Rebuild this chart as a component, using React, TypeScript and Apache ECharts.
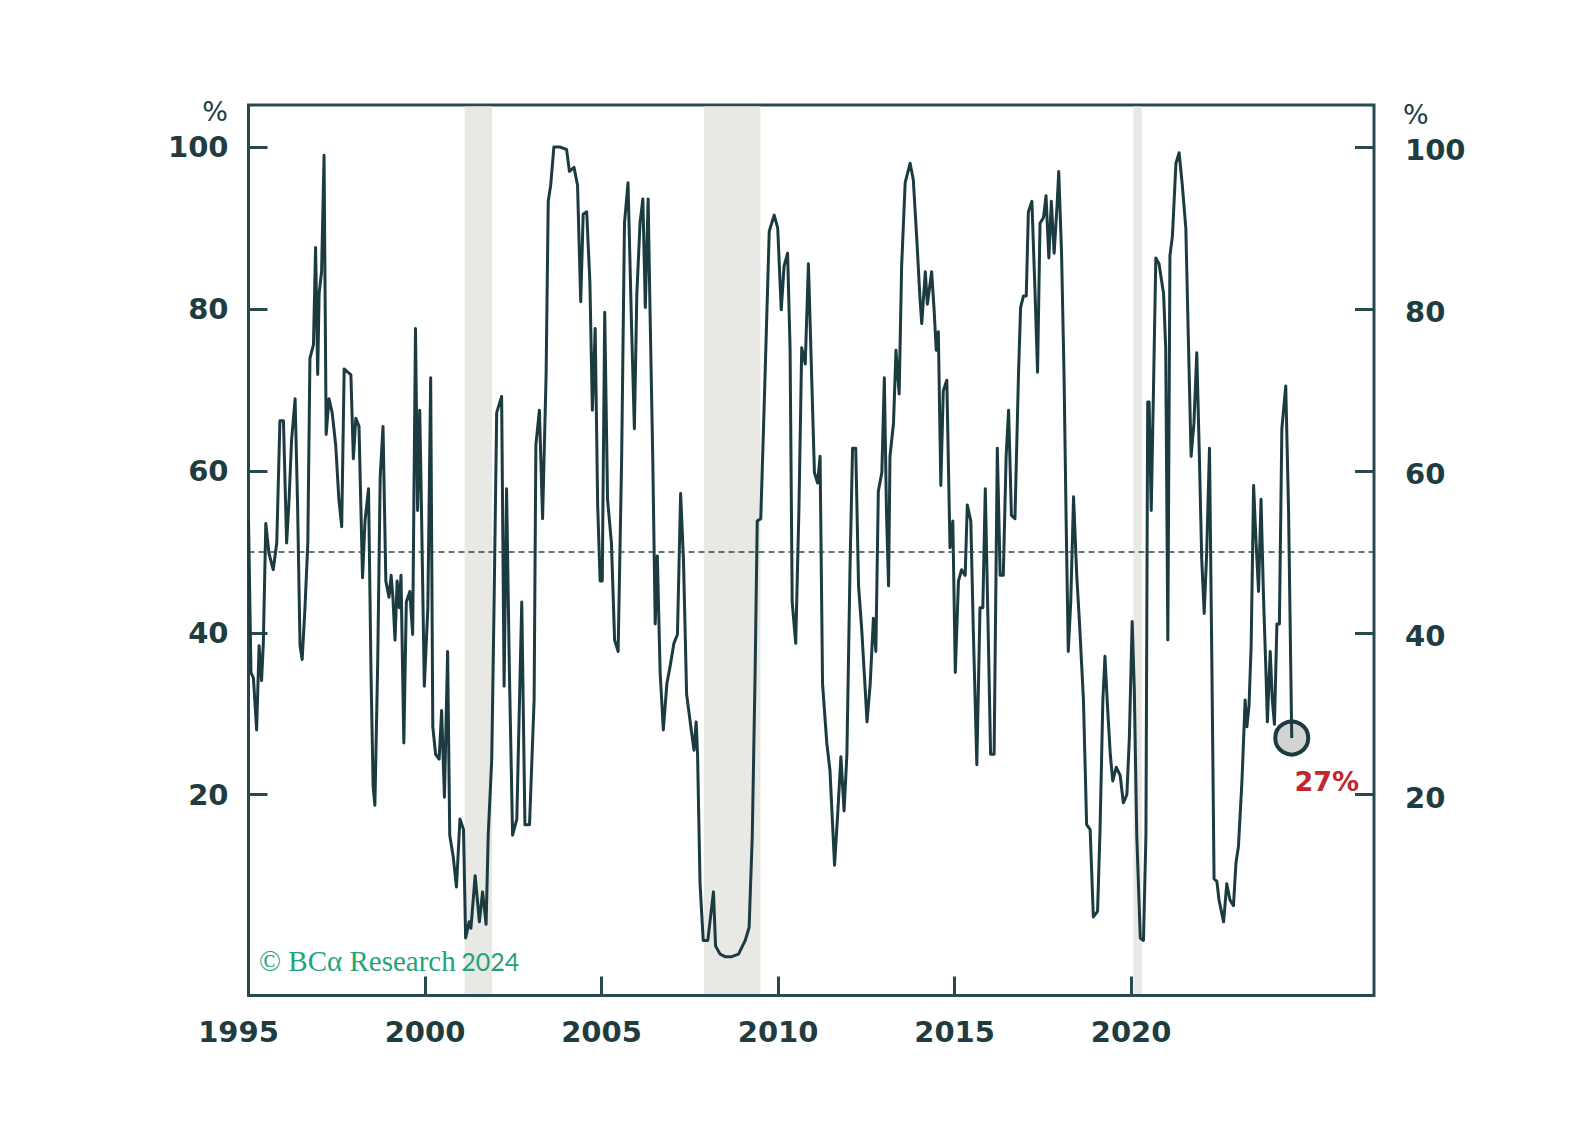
import React, { useEffect, useRef } from "react";
import * as echarts from "echarts";

// Decimal-year dates and values (%)
const dates = [
  1995.0, 1995.07, 1995.14, 1995.23, 1995.3, 1995.37, 1995.42, 1995.49, 1995.58, 1995.7, 1995.8, 1995.89, 1995.99,
  1996.08, 1996.15, 1996.22, 1996.32, 1996.39, 1996.46, 1996.52, 1996.6, 1996.68, 1996.74, 1996.84, 1996.9, 1996.96,
  1997.0, 1997.07, 1997.14, 1997.2, 1997.28, 1997.37, 1997.47, 1997.56, 1997.64, 1997.71, 1997.81, 1997.9, 1997.97,
  1998.04, 1998.13, 1998.23, 1998.3, 1998.4, 1998.47, 1998.53, 1998.58, 1998.66, 1998.73, 1998.81, 1998.89, 1998.98,
  1999.04, 1999.09, 1999.15, 1999.21, 1999.27, 1999.32, 1999.4, 1999.47, 1999.57, 1999.65, 1999.73, 1999.79, 1999.85,
  1999.9, 1999.98, 2000.08, 2000.16, 2000.22, 2000.3, 2000.4, 2000.47, 2000.55, 2000.64, 2000.7, 2000.8, 2000.89,
  2000.99, 2001.09, 2001.15, 2001.25, 2001.3, 2001.42, 2001.54, 2001.63, 2001.73, 2001.79, 2001.89, 2001.95, 2002.03,
  2002.17, 2002.24, 2002.31, 2002.39, 2002.48, 2002.6, 2002.74, 2002.83, 2002.96, 2003.09, 2003.14, 2003.24, 2003.33,
  2003.43, 2003.49, 2003.56, 2003.65, 2003.83, 2004.01, 2004.09, 2004.22, 2004.32, 2004.41, 2004.48, 2004.58, 2004.67,
  2004.74, 2004.82, 2004.89, 2004.96, 2005.02, 2005.09, 2005.17, 2005.28, 2005.37, 2005.47, 2005.57, 2005.65, 2005.75,
  2005.85, 2005.93, 2006.0, 2006.09, 2006.17, 2006.24, 2006.32, 2006.37, 2006.45, 2006.52, 2006.58, 2006.66, 2006.75,
  2006.85, 2006.94, 2007.05, 2007.15, 2007.24, 2007.32, 2007.41, 2007.55, 2007.62, 2007.68, 2007.72, 2007.79, 2007.88,
  2008.01, 2008.17, 2008.23, 2008.36, 2008.5, 2008.69, 2008.88, 2009.07, 2009.18, 2009.27, 2009.35, 2009.41, 2009.51,
  2009.61, 2009.75, 2009.89, 2009.99, 2010.09, 2010.17, 2010.27, 2010.34, 2010.4, 2010.5, 2010.59, 2010.67, 2010.77,
  2010.86, 2010.95, 2011.03, 2011.12, 2011.19, 2011.26, 2011.38, 2011.47, 2011.6, 2011.69, 2011.78, 2011.87, 2011.95,
  2012.04, 2012.11, 2012.2, 2012.28, 2012.37, 2012.45, 2012.52, 2012.61, 2012.7, 2012.77, 2012.84, 2012.94, 2013.01,
  2013.07, 2013.13, 2013.17, 2013.27, 2013.34, 2013.43, 2013.5, 2013.6, 2013.74, 2013.83, 2013.93, 2014.02, 2014.07,
  2014.17, 2014.23, 2014.35, 2014.42, 2014.48, 2014.54, 2014.61, 2014.68, 2014.78, 2014.87, 2014.95, 2015.02, 2015.11,
  2015.2, 2015.3, 2015.36, 2015.46, 2015.53, 2015.63, 2015.72, 2015.8, 2015.87, 2015.96, 2016.02, 2016.12, 2016.21,
  2016.29, 2016.38, 2016.46, 2016.53, 2016.61, 2016.71, 2016.81, 2016.87, 2016.95, 2017.03, 2017.09, 2017.19, 2017.28,
  2017.35, 2017.42, 2017.52, 2017.59, 2017.67, 2017.74, 2017.82, 2017.9, 2017.95, 2018.03, 2018.1, 2018.16, 2018.22,
  2018.29, 2018.37, 2018.46, 2018.54, 2018.65, 2018.74, 2018.84, 2018.93, 2019.05, 2019.12, 2019.2, 2019.26, 2019.33,
  2019.41, 2019.48, 2019.58, 2019.69, 2019.78, 2019.88, 2019.95, 2020.03, 2020.09, 2020.16, 2020.26, 2020.35, 2020.42,
  2020.47, 2020.51, 2020.57, 2020.63, 2020.7, 2020.79, 2020.92, 2020.98, 2021.04, 2021.1, 2021.17, 2021.27, 2021.36,
  2021.45, 2021.55, 2021.62, 2021.7, 2021.78, 2021.86, 2021.93, 2022.0, 2022.07, 2022.14, 2022.22, 2022.29, 2022.35,
  2022.43, 2022.49, 2022.62, 2022.71, 2022.8, 2022.9, 2022.97, 2023.04, 2023.14, 2023.23, 2023.28, 2023.34, 2023.4,
  2023.47, 2023.54, 2023.61, 2023.68, 2023.75, 2023.82, 2023.86, 2023.94, 2024.0, 2024.06, 2024.13, 2024.2, 2024.27,
  2024.38, 2024.46, 2024.55,
];

const values = [
  54, 35.1, 34.4, 28, 38.4, 34.1, 38.7, 53.5, 49.8, 47.8, 51.1, 66.2, 66.2,
  51.1, 56.5, 63.8, 68.9, 55.8, 38.4, 36.7, 43.1, 51.1, 73.9, 75.6, 87.6, 71.9,
  81.9, 84.6, 99, 64.5, 68.9, 67.2, 63.2, 56.5, 53.1, 72.6, 72.2, 71.9, 61.5,
  66.5, 65.5, 46.8, 53.8, 57.8, 35.1, 21, 18.7, 36.4, 59.2, 65.5, 46.4, 44.4,
  47.1, 44.4, 39.1, 46.4, 43.1, 47.1, 26.4, 43.8, 45.1, 39.8, 77.6, 55.1, 67.5,
  55.1, 33.4, 43.1, 71.5, 28.4, 25, 24.4, 30.4, 19.7, 37.7, 15, 12.3, 8.6,
  17, 15.7, 2.3, 4.3, 3.5, 10, 4.3, 8, 4, 15, 24.4, 41.8, 67.2,
  69.2, 33.4, 57.8, 35.1, 15, 17, 43.8, 16.3, 16.3, 31.7, 63.2, 67.5, 54.1,
  71.9, 93.3, 95.3, 100, 100, 99.7, 97, 97.5, 95.3, 80.9, 91.7, 92, 83.3,
  67.5, 77.6, 55.8, 46.4, 46.4, 79.6, 56.5, 51.1, 39.1, 37.7, 61.8, 90.6, 95.6,
  77.9, 65.2, 81.9, 90.6, 93.6, 80.2, 93.6, 80.6, 61.8, 41.1, 49.5, 35.1, 28,
  33.7, 35.8, 38.7, 39.8, 57.2, 49.1, 32.4, 27.7, 25.5, 29, 25, 9, 2,
  2, 8, 1.3, 0.3, 0, 0, 0.3, 2, 3.6, 15, 35.1, 53.8, 54.1,
  68.5, 89.6, 91.6, 90, 79.9, 85.3, 86.9, 75.2, 43.8, 38.7, 55.1, 75.2, 73.2,
  85.6, 71.9, 59.8, 58.5, 61.8, 33.7, 26.4, 23, 11.3, 17.7, 24.7, 18, 25,
  48.5, 62.8, 62.8, 45.8, 40.4, 34.4, 29, 33.7, 41.8, 37.7, 57.5, 59.8, 71.5,
  55.1, 45.8, 61.8, 65.9, 74.9, 69.5, 85.3, 95.6, 98, 96, 88.6, 81.3, 78.2,
  84.6, 80.6, 84.6, 79.9, 74.9, 77.2, 58.2, 69.9, 71.2, 50.5, 53.8, 35.1, 46.4,
  47.8, 47.1, 55.8, 53.8, 40.4, 23.7, 43.1, 43.1, 57.8, 38.4, 25, 25, 62.8,
  47.1, 47.1, 61.8, 67.5, 54.5, 54.1, 71.9, 80.2, 81.6, 81.6, 92, 93.3, 81.9,
  72.2, 90.6, 91.3, 94, 86.3, 93.3, 86.9, 92.6, 97, 86.9, 71.9, 53.8, 37.7,
  43.8, 56.8, 47.1, 41.1, 31.7, 16.3, 15.7, 4.9, 5.6, 15.7, 31.7, 37.1, 31,
  25, 21.7, 23.4, 22.4, 19, 20, 27, 41.4, 33.1, 15, 2.3, 2, 15,
  68.5, 68.5, 55.1, 69.2, 86.3, 85.6, 81.9, 75.2, 39.1, 86.6, 89, 98, 99.3,
  95.3, 90, 76.6, 61.8, 65.9, 74.6, 62.5, 49.1, 42.4, 49.8, 62.8, 35.1, 9.6,
  9.3, 7, 4.3, 9, 7, 6.3, 11.6, 13.6, 21.7, 31.7, 28.4, 31, 38.4,
  58.2, 51.1, 45.1, 56.5, 44.4, 35.1, 29, 37.7, 31.7, 28.7, 41.1, 41.1, 65.2,
  70.5, 55.1, 27,
];

// Recession periods (decimal years)
const recessions = [
  [2001.12, 2001.9],
  [2007.9, 2009.5],
  [2020.07, 2020.3],
];

const xTickValues = [2000, 2005, 2010, 2015, 2020];
const xLabelValues = [1995, 2000, 2005, 2010, 2015, 2020];
const yTickValues = [20, 40, 60, 80, 100];
const threshold = 50;

const FRAME = "#284a4e";
const LINE = "#1b3b40";
const TEXT = "#1f3d41";
const SHADE = "#e8e8e4";
const GREEN = "#1fa37a";
const RED = "#c1272d";
const FONT = "DejaVu Sans";

export default function App() {
  const ref = useRef<HTMLDivElement>(null);

  useEffect(() => {
    if (!ref.current) return;
    const chart = echarts.init(ref.current, undefined, { renderer: "svg" });
    const lineData = dates.map((d, i) => [d, values[i]]);
    const last = lineData[lineData.length - 1];

    const labelFont = {
      fontFamily: FONT,
      fontWeight: "bold" as const,
      fontSize: 29,
      color: TEXT,
    };

    const yBase = {
      type: "value" as const,
      min: -4.8,
      max: 105.2,
      splitLine: { show: false },
      axisLine: { show: false, onZero: false },
      axisTick: {
        show: true,
        inside: true,
        length: 19,
        lineStyle: { color: FRAME, width: 3 },
        customValues: yTickValues,
      },
    };

    const option: any = {
      animation: false,
      backgroundColor: "#ffffff",
      grid: {
        left: 248.5,
        right: 222,
        top: 105,
        bottom: 148.5,
        show: true,
        borderColor: FRAME,
        borderWidth: 3,
        backgroundColor: "transparent",
      },
      xAxis: {
        type: "value",
        min: 1995,
        max: 2026.88,
        position: "bottom",
        splitLine: { show: false },
        axisLine: { show: false, onZero: false },
        axisTick: {
          show: true,
          inside: true,
          length: 19,
          lineStyle: { color: FRAME, width: 3 },
          customValues: xTickValues,
        },
        axisLabel: {
          ...labelFont,
          margin: 22,
          customValues: xLabelValues,
          formatter: (v: number) => (v === 1995 ? "{s|" + v + "}" : String(v)),
          rich: {
            s: { ...labelFont, padding: [0, 20, 0, 0] },
          },
        },
      },
      yAxis: [
        {
          ...yBase,
          position: "left",
          axisLabel: { ...labelFont, margin: 20, customValues: yTickValues },
        },
        {
          ...yBase,
          position: "right",
          axisLabel: {
            ...labelFont,
            margin: 31,
            customValues: yTickValues,
            formatter: (v: number) => "{r|" + v + "}",
            rich: { r: { ...labelFont, padding: [6, 0, 0, 0] } },
          },
        },
      ],
      graphic: [
        {
          type: "text",
          x: 228,
          y: 111,
          style: {
            text: "%",
            fontFamily: FONT,
            fontSize: 27,
            fill: TEXT,
            align: "right",
            verticalAlign: "middle",
          },
        },
        {
          type: "text",
          x: 1403,
          y: 114,
          style: {
            text: "%",
            fontFamily: FONT,
            fontSize: 27,
            fill: TEXT,
            align: "left",
            verticalAlign: "middle",
          },
        },
        {
          type: "text",
          x: 259,
          y: 961,
          z: 10,
          style: {
            text: "{a|© BCα Research}{sp| }{b|2024}",
            verticalAlign: "middle",
            align: "left",
            rich: {
              a: { fontFamily: "Liberation Serif", fontSize: 29, fill: GREEN },
              sp: { fontFamily: "Liberation Serif", fontSize: 22, fill: GREEN },
              b: { fontFamily: "Lato", fontSize: 25, fill: GREEN },
            },
          },
        },
      ],
      series: [
        {
          type: "custom",
          xAxisIndex: 0,
          yAxisIndex: 0,
          silent: true,
          z: 1,
          data: recessions,
          encode: { x: [0, 1] },
          renderItem: (params: any, api: any) => {
            const x0 = api.coord([api.value(0), 0])[0];
            const x1 = api.coord([api.value(1), 0])[0];
            const cs = params.coordSys;
            return {
              type: "rect",
              shape: { x: x0, y: cs.y + 1.5, width: x1 - x0, height: cs.height - 3 },
              style: { fill: SHADE },
            };
          },
        },
        {
          type: "scatter",
          xAxisIndex: 0,
          yAxisIndex: 0,
          z: 3,
          silent: true,
          data: [last],
          symbol: "circle",
          symbolSize: 33,
          itemStyle: { color: "#d3d3d3", borderColor: LINE, borderWidth: 4, opacity: 1 },
          label: {
            show: true,
            position: "inside",
            offset: [35, 43],
            formatter: (p: any) => Math.round(p.value[1]) + "%",
            fontFamily: FONT,
            fontWeight: "bold",
            fontSize: 27,
            color: RED,
            opacity: 1,
          },
        },
        {
          type: "line",
          xAxisIndex: 0,
          yAxisIndex: 0,
          z: 4,
          silent: true,
          data: lineData,
          showSymbol: false,
          symbol: "none",
          lineStyle: { color: LINE, width: 3, join: "round" },
          markLine: {
            silent: true,
            symbol: "none",
            label: { show: false },
            lineStyle: { color: "#2c4a44", type: [6, 4], width: 1.5 },
            data: [{ yAxis: threshold }],
          },
        },
      ],
    };

    chart.setOption(option);
    return () => chart.dispose();
  }, []);

  return (
    <div
      ref={ref}
      style={{ position: "absolute", left: 0, top: 0, width: 1596, height: 1144, background: "#fff" }}
    />
  );
}
